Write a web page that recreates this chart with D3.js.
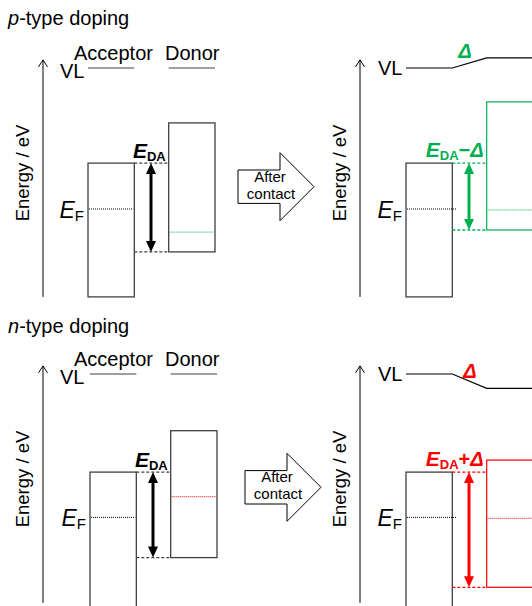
<!DOCTYPE html>
<html>
<head>
<meta charset="utf-8">
<script src="https://cdn.jsdelivr.net/npm/d3@7/dist/d3.min.js"></script>
<style>
  body { margin: 0; background: #fff; }
  text { font-family: "Liberation Sans", Arial, sans-serif; fill: #000; }
</style>
</head>
<body>
<div id="chart"></div>
<script>
const width = 532,
    height = 606;

// Energy levels in eV, measured from the acceptor vacuum level (VL = 0)
// index 0 = p-type doping, index 1 = n-type doping ; inner pair = [Acceptor, Donor]
const titles = ["p-type doping", "n-type doping"];
const sides = ["Acceptor", "Donor"];
const beforeTop = [[-3.17, -1.83], [-3.27, -1.89]];
const beforeFermi = [[-4.70, -5.47], [-4.78, -4.09]];
const beforeBottom = [[-7.63, -6.13], [-7.90, -6.12]];
const afterVL = [[0, 0.34], [0, -0.48]];
const afterTop = [[-3.17, -1.13], [-3.27, -2.87]];
const afterFermi = [[-4.70, -4.73], [-4.78, -4.81]];
const afterBottom = [[-7.63, -5.40], [-7.90, -7.11]];
const axisExtent = [0.27, -7.63];
const gapSigns = ["\u2212", "+"];
const gapColors = ["#00b050", "#ff0000"];

// layout
const vlY = [68, 374],
    titleY = [25, 333],
    leftRange = [[88, 215], [90, 217]],
    rightRange = [406, 533],
    leftAxisX = 43,
    rightAxisX = 360,
    contactArrow = [[238, 186.7], [245, 487.3]],
    deltaPos = [[465, 58], [470, 378]],
    lineColor = "#404040";

const svg = d3.select("#chart")
    .append("svg")
    .attr("width", width)
    .attr("height", height);

// energy axis with an open arrow tip
function energyAxis(g, x, y) {
    g.append("line")
        .attr("x1", x).attr("x2", x)
        .attr("y1", y(axisExtent[0])).attr("y2", y(axisExtent[1]))
        .attr("stroke", "#000").attr("stroke-width", 1);
    g.append("path")
        .attr("d", `M${x - 4.5},${y(axisExtent[0]) + 7}L${x},${y(axisExtent[0])}L${x + 4.5},${y(axisExtent[0]) + 7}`)
        .attr("fill", "none").attr("stroke", "#000").attr("stroke-width", 1);
    g.append("text")
        .attr("transform", `translate(${x - 14.5},${y(-3.5)}) rotate(-90)`)
        .attr("text-anchor", "middle")
        .style("font-size", "18.5px")
        .text("Energy / eV");
}

function doubleArrow(g, x, y1, y2, color) {
    const hw = 5, hl = 11;
    g.append("line")
        .attr("x1", x).attr("x2", x)
        .attr("y1", y1 + hl - 1).attr("y2", y2 - hl + 1)
        .attr("stroke", color).attr("stroke-width", 3);
    g.append("path")
        .attr("d", `M${x},${y1}L${x - hw},${y1 + hl}L${x + hw},${y1 + hl}Z M${x},${y2}L${x - hw},${y2 - hl}L${x + hw},${y2 - hl}Z`)
        .attr("fill", color);
}

function fermiLabel(g, x, y) {
    const t = g.append("text")
        .attr("x", x).attr("y", y + 8.5)
        .attr("text-anchor", "end");
    t.append("tspan").style("font-style", "italic").style("font-size", "23px").text("E");
    t.append("tspan").attr("dy", 3).style("font-size", "15px").text("F");
}

function gapLabel(g, x, y, color, suffix) {
    const t = g.append("text")
        .attr("x", x).attr("y", y)
        .attr("text-anchor", "end")
        .style("fill", color)
        .style("font-weight", "bold");
    t.append("tspan").style("font-style", "italic").style("font-size", "21px").text("E");
    t.append("tspan").attr("dy", 3).style("font-size", "13px").text("DA");
    if (suffix) {
        t.append("tspan").attr("dy", -3).style("font-size", "20px").text(suffix[0]);
        t.append("tspan").style("font-style", "italic").style("font-size", "20px").text(suffix[1]);
    }
}

titles.forEach((title, i) => {
    const y = d3.scaleLinear().domain([0, -8]).range([vlY[i], vlY[i] + 240]);
    const xl = d3.scaleBand().domain(sides).range(leftRange[i]).paddingInner(0.426);
    const xr = d3.scaleBand().domain(sides).range(rightRange).paddingInner(0.426);
    const color = gapColors[i];
    const g = svg.append("g");

    // title: italic p / n then "-type doping"
    const tt = g.append("text").attr("x", 8).attr("y", titleY[i]).style("font-size", "20px");
    tt.append("tspan").style("font-style", "italic").text(title[0]);
    tt.append("tspan").text(title.slice(1));

    // ---- before contact ----
    energyAxis(g, leftAxisX, y);
    g.append("text").attr("x", 60).attr("y", y(0) + 10).style("font-size", "20px").text("VL");
    g.selectAll(".side-label")
        .data(sides)
        .enter()
        .append("text")
        .attr("x", (d, j) => j === 0 ? 74 : 165)
        .attr("y", y(0) - 8)
        .style("font-size", "20px")
        .text(d => d);
    g.selectAll(".vl-left")
        .data(sides)
        .enter()
        .append("line")
        .attr("x1", d => xl(d)).attr("x2", d => xl(d) + xl.bandwidth())
        .attr("y1", y(0)).attr("y2", y(0))
        .attr("stroke", lineColor).attr("stroke-width", 1.2);
    g.selectAll(".block-left")
        .data(sides)
        .enter()
        .append("rect")
        .attr("x", d => xl(d))
        .attr("y", (d, j) => y(beforeTop[i][j]))
        .attr("width", xl.bandwidth())
        .attr("height", (d, j) => y(beforeBottom[i][j]) - y(beforeTop[i][j]))
        .attr("fill", "none").attr("stroke", lineColor).attr("stroke-width", 1.3);
    g.selectAll(".fermi-left")
        .data(sides)
        .enter()
        .append("line")
        .attr("x1", d => xl(d) + 1).attr("x2", d => xl(d) + xl.bandwidth() - 1)
        .attr("y1", (d, j) => y(beforeFermi[i][j])).attr("y2", (d, j) => y(beforeFermi[i][j]))
        .attr("stroke", (d, j) => j === 0 ? "#000" : color)
        .attr("stroke-width", 1).attr("stroke-dasharray", "1,1");
    fermiLabel(g, xl("Acceptor") - 4, y(beforeFermi[i][0]));

    const gapL = xl("Acceptor") + xl.bandwidth(), gapR = xl("Donor");
    [beforeTop[i][0], beforeBottom[i][1]].forEach(e => {
        g.append("line")
            .attr("x1", gapL).attr("x2", gapR)
            .attr("y1", y(e)).attr("y2", y(e))
            .attr("stroke", lineColor).attr("stroke-width", 1.3).attr("stroke-dasharray", "3,2");
    });
    doubleArrow(g, (gapL + gapR) / 2 - 0.5, y(beforeTop[i][0]), y(beforeBottom[i][1]), "#000");
    gapLabel(g, gapR - 3, y(beforeTop[i][0]) - 5, "#000", null);

    // ---- "After contact" block arrow ----
    const [ax, ay] = contactArrow[i];
    g.append("path")
        .attr("d", `M${ax},${ay - 16.7}H${ax + 42}V${ay - 34}L${ax + 76},${ay}L${ax + 42},${ay + 34}V${ay + 16.7}H${ax}Z`)
        .attr("fill", "#fff").attr("stroke", "#000").attr("stroke-width", 1);
    g.append("text").attr("x", ax + 32).attr("y", ay - 5).attr("text-anchor", "middle")
        .style("font-size", "15px").text("After");
    g.append("text").attr("x", ax + 33).attr("y", ay + 12).attr("text-anchor", "middle")
        .style("font-size", "15px").text("contact");

    // ---- after contact ----
    energyAxis(g, rightAxisX, y);
    g.append("text").attr("x", 378).attr("y", y(0) + 7).style("font-size", "20px").text("VL");
    const vlLine = d3.line()([
        [xr("Acceptor"), y(afterVL[i][0])],
        [xr("Acceptor") + xr.bandwidth(), y(afterVL[i][0])],
        [xr("Donor"), y(afterVL[i][1])],
        [width + 2, y(afterVL[i][1])]
    ]);
    g.append("path").attr("d", vlLine).attr("fill", "none").attr("stroke", "#000").attr("stroke-width", 1.2);
    g.append("text")
        .attr("x", deltaPos[i][0]).attr("y", deltaPos[i][1])
        .attr("text-anchor", "middle")
        .style("fill", color).style("font-style", "italic").style("font-weight", "bold").style("font-size", "20px")
        .text("\u0394");

    g.selectAll(".block-right")
        .data(sides)
        .enter()
        .append("rect")
        .attr("x", d => xr(d))
        .attr("y", (d, j) => y(afterTop[i][j]))
        .attr("width", (d, j) => j === 0 ? xr.bandwidth() : xr.bandwidth() + 4)
        .attr("height", (d, j) => y(afterBottom[i][j]) - y(afterTop[i][j]))
        .attr("fill", "none")
        .attr("stroke", (d, j) => j === 0 ? lineColor : color)
        .attr("stroke-width", (d, j) => j === 0 ? 1.3 : 1.2);
    g.selectAll(".fermi-right")
        .data(sides)
        .enter()
        .append("line")
        .attr("x1", d => xr(d) + 1).attr("x2", d => xr(d) + xr.bandwidth() + 4)
        .attr("y1", (d, j) => y(afterFermi[i][j])).attr("y2", (d, j) => y(afterFermi[i][j]))
        .attr("stroke", (d, j) => j === 0 ? "#000" : color)
        .attr("stroke-width", 1).attr("stroke-dasharray", "1,1");
    fermiLabel(g, xr("Acceptor") - 4, y(afterFermi[i][0]));

    const gapL2 = xr("Acceptor") + xr.bandwidth(), gapR2 = xr("Donor");
    [afterTop[i][0], afterBottom[i][1]].forEach(e => {
        g.append("line")
            .attr("x1", gapL2).attr("x2", gapR2)
            .attr("y1", y(e)).attr("y2", y(e))
            .attr("stroke", color).attr("stroke-width", 1.3).attr("stroke-dasharray", "3,2");
    });
    doubleArrow(g, (gapL2 + gapR2) / 2 - 0.5, y(afterTop[i][0]), y(afterBottom[i][1]), color);
    gapLabel(g, gapR2 - 3, y(afterTop[i][0]) - 6, color, [gapSigns[i], "\u0394"]);
});
</script>
</body>
</html>
